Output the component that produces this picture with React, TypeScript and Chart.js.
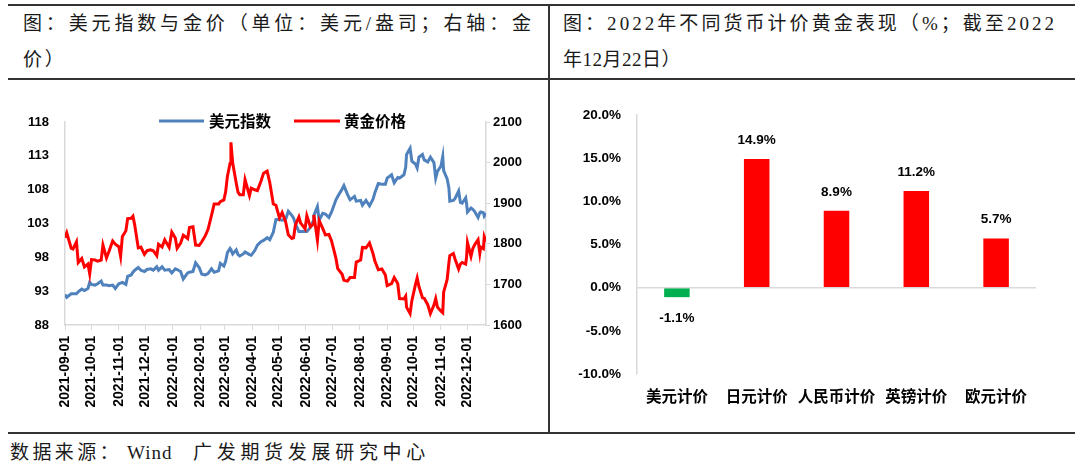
import React, { useEffect, useRef } from "react";
import { Chart, registerables } from "chart.js";

Chart.register(...registerables);

// ---------- data: left chart (USD index vs gold) ----------
const dates = [
  "2021-09-01","2021-09-03","2021-09-08","2021-09-10","2021-09-14","2021-09-16","2021-09-20","2021-09-23","2021-09-27","2021-09-29",
  "2021-10-01","2021-10-05","2021-10-08","2021-10-12","2021-10-14","2021-10-18","2021-10-21","2021-10-25","2021-10-28",
  "2021-11-01","2021-11-03","2021-11-05","2021-11-09","2021-11-11","2021-11-15","2021-11-17","2021-11-19","2021-11-23","2021-11-26","2021-11-30",
  "2021-12-03","2021-12-07","2021-12-10","2021-12-14","2021-12-16","2021-12-20","2021-12-23","2021-12-28","2021-12-31",
  "2022-01-04","2022-01-06","2022-01-10","2022-01-13","2022-01-18","2022-01-20","2022-01-24","2022-01-27","2022-01-31",
  "2022-02-03","2022-02-07","2022-02-10","2022-02-14","2022-02-17","2022-02-22","2022-02-24","2022-02-28",
  "2022-03-02","2022-03-04","2022-03-07","2022-03-08","2022-03-10","2022-03-14","2022-03-16","2022-03-18","2022-03-22","2022-03-24","2022-03-29","2022-03-31",
  "2022-04-04","2022-04-07","2022-04-11","2022-04-14","2022-04-18","2022-04-21","2022-04-25","2022-04-28",
  "2022-05-02","2022-05-05","2022-05-09","2022-05-12","2022-05-16","2022-05-18","2022-05-20","2022-05-24","2022-05-26","2022-05-31",
  "2022-06-02","2022-06-06","2022-06-09","2022-06-10","2022-06-14","2022-06-16","2022-06-20","2022-06-23","2022-06-27","2022-06-30",
  "2022-07-05","2022-07-07","2022-07-12","2022-07-14","2022-07-18","2022-07-21","2022-07-26","2022-07-28",
  "2022-08-02","2022-08-04","2022-08-08","2022-08-12","2022-08-16","2022-08-18","2022-08-22","2022-08-26","2022-08-30",
  "2022-09-01","2022-09-06","2022-09-09","2022-09-13","2022-09-15","2022-09-20","2022-09-22","2022-09-23","2022-09-27","2022-09-29",
  "2022-10-03","2022-10-05","2022-10-07","2022-10-11","2022-10-13","2022-10-17","2022-10-20","2022-10-24","2022-10-26","2022-10-28",
  "2022-11-01","2022-11-03","2022-11-04","2022-11-08","2022-11-10","2022-11-11","2022-11-15","2022-11-17","2022-11-21","2022-11-23","2022-11-25","2022-11-29","2022-11-30",
  "2022-12-01","2022-12-05","2022-12-07","2022-12-09","2022-12-13","2022-12-15","2022-12-16","2022-12-19","2022-12-20","2022-12-22",
];

const usdIndex = [
  92.5,92.1,92.6,92.6,92.6,92.9,93.3,93.1,93.4,94.3,
  94.0,93.9,94.1,94.5,93.9,93.9,93.8,93.9,93.4,
  94.1,94.2,94.3,94.0,95.2,95.4,95.8,96.1,96.5,96.1,95.9,
  96.2,96.3,96.1,96.6,96.1,96.6,96.1,96.2,95.7,
  96.3,96.2,95.9,94.8,95.7,95.8,95.9,97.2,96.5,
  95.5,95.4,95.6,96.3,95.8,96.0,97.1,96.7,
  97.4,98.7,99.3,99.1,98.5,99.1,98.4,98.2,98.5,98.8,98.4,98.3,
  99.0,99.8,100.3,100.5,100.9,100.6,101.7,103.6,
  103.6,103.5,103.6,104.8,104.2,103.8,103.0,101.8,101.8,101.8,
  101.8,102.4,103.3,104.2,105.5,103.5,104.5,104.4,103.9,104.7,
  106.5,107.0,108.1,108.6,107.3,106.5,107.0,106.3,
  106.4,105.7,106.4,105.6,106.6,107.5,108.9,108.8,108.8,
  109.7,110.2,109.0,109.8,109.7,110.2,111.3,113.2,114.1,112.2,
  111.8,111.2,112.8,113.2,112.4,112.1,112.8,112.0,109.7,110.7,
  111.5,112.9,110.8,109.6,108.2,106.3,106.4,106.7,107.8,106.1,106.0,106.8,105.9,
  104.7,105.3,105.1,104.8,103.9,104.6,104.7,104.6,104.1,104.5,
];

const goldPrice = [
  1815,1827,1789,1787,1805,1754,1764,1743,1750,1726,
  1761,1760,1757,1760,1797,1765,1782,1807,1799,
  1793,1769,1818,1832,1862,1863,1868,1846,1790,1792,1774,
  1783,1785,1783,1771,1799,1792,1810,1791,1829,
  1814,1789,1802,1821,1813,1840,1842,1797,1796,
  1805,1820,1835,1870,1898,1898,1904,1908,
  1928,1966,1998,2050,1999,1950,1927,1921,1921,1958,1919,1937,
  1933,1931,1954,1974,1979,1951,1898,1895,
  1864,1877,1854,1822,1813,1815,1846,1866,1851,1837,
  1869,1842,1848,1871,1809,1857,1838,1822,1823,1807,
  1764,1739,1725,1710,1708,1717,1717,1755,
  1760,1791,1790,1802,1776,1758,1736,1738,1723,
  1697,1702,1717,1702,1665,1664,1671,1644,1628,1660,
  1699,1716,1695,1667,1666,1650,1628,1649,1665,1644,
  1634,1630,1681,1712,1754,1771,1776,1762,1738,1750,1754,1750,1768,
  1803,1769,1788,1797,1810,1777,1792,1788,1817,1805,
];

const monthTicks = [
  "2021-09-01","2021-10-01","2021-11-01","2021-12-01","2022-01-01","2022-02-01","2022-03-01","2022-04-01",
  "2022-05-01","2022-06-01","2022-07-01","2022-08-01","2022-09-01","2022-10-01","2022-11-01","2022-12-01",
];
const xStart = "2021-09-01";
const xEnd = "2022-12-22";
const seriesNames = ["美元指数", "黄金价格"];

// ---------- data: right chart (gold in different currencies) ----------
const currencyLabels = ["美元计价", "日元计价", "人民币计价", "英镑计价", "欧元计价"];
const goldReturns = [-1.1, 14.9, 8.9, 11.2, 5.7];

const NUM_FONT = "'Liberation Sans', Arial, sans-serif";
const CJK_FONT = "'Noto Sans CJK SC', 'Noto Sans', sans-serif";
const TITLE_FONT = "'Liberation Serif', 'Noto Sans CJK SC', serif";
const BLUE = "#4F81BD";
const RED = "#FF0000";
const GREEN = "#00B050";
const AXIS = "#D9D9D9";

const legendPlugin = {
  id: "customLegend",
  afterDraw(chart: any) {
    const ctx = chart.ctx;
    const y = 36;
    const items = [
      { x1: 159, x2: 204, tx: 209, color: BLUE, text: seriesNames[0] },
      { x1: 294, x2: 340, tx: 344, color: RED, text: seriesNames[1] },
    ];
    ctx.save();
    items.forEach((it) => {
      ctx.strokeStyle = it.color;
      ctx.lineWidth = 3;
      ctx.beginPath();
      ctx.moveTo(it.x1, y);
      ctx.lineTo(it.x2, y);
      ctx.stroke();
      ctx.fillStyle = "#000";
      ctx.font = `bold 15.5px ${CJK_FONT}`;
      ctx.textAlign = "left";
      ctx.textBaseline = "middle";
      ctx.fillText(it.text, it.tx, y);
    });
    ctx.restore();
  },
};

const barLabelPlugin = {
  id: "barLabels",
  afterDatasetsDraw(chart: any) {
    const ctx = chart.ctx;
    const meta = chart.getDatasetMeta(0);
    ctx.save();
    ctx.fillStyle = "#000";
    ctx.font = `bold 13.5px ${NUM_FONT}`;
    ctx.textAlign = "center";
    ctx.textBaseline = "middle";
    meta.data.forEach((bar: any, i: number) => {
      const v = goldReturns[i];
      const y = v >= 0 ? bar.y - 19 : bar.y + 21;
      ctx.fillText(v.toFixed(1) + "%", bar.x, y);
    });
    ctx.restore();
  },
};

function LeftChart() {
  const ref = useRef<HTMLCanvasElement>(null);
  useEffect(() => {
    if (!ref.current) return;
    const xs = dates.map((d) => Date.parse(d));
    const chart = new Chart(ref.current, {
      type: "line",
      data: {
        datasets: [
          {
            label: seriesNames[0],
            data: xs.map((x, i) => ({ x, y: usdIndex[i] })),
            borderColor: BLUE,
            backgroundColor: BLUE,
            borderWidth: 3,
            pointRadius: 0,
            tension: 0,
            yAxisID: "y",
            order: 1,
          },
          {
            label: seriesNames[1],
            data: xs.map((x, i) => ({ x, y: goldPrice[i] })),
            borderColor: RED,
            backgroundColor: RED,
            borderWidth: 3,
            pointRadius: 0,
            tension: 0,
            yAxisID: "y1",
            order: 0,
          },
        ],
      },
      options: {
        animation: false,
        responsive: false,
        layout: { padding: { top: 37, left: 0, right: 0, bottom: 0 } },
        plugins: { legend: { display: false }, tooltip: { enabled: false } },
        scales: {
          x: {
            type: "linear",
            min: Date.parse(xStart),
            max: Date.parse(xEnd),
            afterBuildTicks: (s: any) => {
              s.ticks = monthTicks.map((d) => ({ value: Date.parse(d) }));
            },
            afterFit: (s: any) => {
              s.height = 105;
            },
            ticks: {
              autoSkip: false,
              minRotation: 90,
              maxRotation: 90,
              padding: 6,
              color: "#000",
              font: { family: NUM_FONT, size: 14, weight: "bold" },
              callback: (v: any) => new Date(v).toISOString().slice(0, 10),
            },
            grid: { display: true, drawOnChartArea: false, drawTicks: true, tickLength: 5, color: AXIS, lineWidth: 1 },
            border: { display: true, color: AXIS, width: 1.5 },
          },
          y: {
            position: "left",
            min: 88,
            max: 118,
            afterFit: (s: any) => {
              s.width = 65;
            },
            ticks: {
              stepSize: 5,
              padding: 16,
              color: "#000",
              font: { family: NUM_FONT, size: 13, weight: "bold" },
              callback: (v: any) => String(v),
            },
            grid: { display: false, drawTicks: false },
            border: { display: true, color: AXIS, width: 1.5 },
          },
          y1: {
            position: "right",
            min: 1600,
            max: 2100,
            afterFit: (s: any) => {
              s.width = 62;
            },
            ticks: {
              stepSize: 100,
              padding: 3,
              color: "#000",
              font: { family: NUM_FONT, size: 13, weight: "bold" },
              callback: (v: any) => String(v),
            },
            grid: { display: true, drawOnChartArea: false, drawTicks: true, tickLength: 4, color: AXIS },
            border: { display: true, color: AXIS, width: 1.5 },
          },
        },
      } as any,
      plugins: [legendPlugin],
    });
    return () => chart.destroy();
  }, []);
  return <canvas ref={ref} width={548} height={345} style={{ display: "block" }} />;
}

function RightChart() {
  const ref = useRef<HTMLCanvasElement>(null);
  useEffect(() => {
    if (!ref.current) return;
    const chart = new Chart(ref.current, {
      type: "bar",
      data: {
        labels: currencyLabels,
        datasets: [
          {
            data: goldReturns,
            backgroundColor: goldReturns.map((v) => (v < 0 ? GREEN : RED)),
            borderWidth: 0,
            categoryPercentage: 1,
            barPercentage: 0.32,
          },
        ],
      },
      options: {
        animation: false,
        responsive: false,
        layout: { padding: { top: 30, right: 42, left: 0, bottom: 0 } },
        plugins: { legend: { display: false }, tooltip: { enabled: false } },
        scales: {
          x: {
            afterFit: (s: any) => {
              s.height = 56;
            },
            ticks: {
              padding: 13,
              color: "#000",
              font: { family: CJK_FONT, size: 15.5, weight: "bold" },
              maxRotation: 0,
              autoSkip: false,
            },
            grid: { display: false, drawTicks: false },
            border: { display: false },
          },
          y: {
            min: -10,
            max: 20,
            afterFit: (s: any) => {
              s.width = 87;
            },
            ticks: {
              stepSize: 5,
              padding: 16,
              color: "#000",
              font: { family: NUM_FONT, size: 13.5, weight: "bold" },
              callback: (v: any) => Number(v).toFixed(1) + "%",
            },
            grid: {
              drawTicks: false,
              lineWidth: 1.5,
              color: (c: any) => (c.tick && c.tick.value === 0 ? AXIS : "rgba(0,0,0,0)"),
            },
            border: { display: true, color: AXIS, width: 1.5 },
          },
        },
      } as any,
      plugins: [barLabelPlugin],
    });
    return () => chart.destroy();
  }, []);
  return <canvas ref={ref} width={528} height={345} style={{ display: "block" }} />;
}

const lineStyle = (left: number, top: number, width: number, height: number): React.CSSProperties => ({
  position: "absolute",
  left,
  top,
  width,
  height,
  background: "#333",
});

const titleText: React.CSSProperties = {
  position: "absolute",
  fontFamily: TITLE_FONT,
  fontSize: 19,
  lineHeight: "19px",
  color: "#1a1a1a",
  whiteSpace: "nowrap",
};

const justified: React.CSSProperties = {
  textAlign: "justify",
  textAlignLast: "justify" as any,
  textJustify: "inter-character" as any,
  whiteSpace: "normal",
};

export default function App() {
  return (
    <div
      lang="zh-CN"
      style={{
        position: "fixed",
        left: 0,
        top: 0,
        width: 1080,
        height: 469,
        background: "#fff",
        overflow: "hidden",
      }}
    >
      <div style={{ position: "absolute", left: 0, top: 85 }}>
        <LeftChart />
      </div>
      <div style={{ position: "absolute", left: 550, top: 85 }}>
        <RightChart />
      </div>

      <div style={{ ...titleText, ...justified, left: 23, top: 14, width: 508 }}>
        图：美元指数与金价（单位：美元/盎司；右轴：金
      </div>
      <div style={{ ...titleText, left: 23, top: 50, letterSpacing: "2.7px" }}>价）</div>
      <div style={{ ...titleText, left: 563, top: 14, letterSpacing: "3.05px" }}>
        图：2022年不同货币计价黄金表现（%；截至2022
      </div>
      <div style={{ ...titleText, left: 563, top: 50, letterSpacing: "0.5px" }}>年12月22日）</div>

      <div style={{ ...titleText, left: 10, top: 443, letterSpacing: "3.4px" }}>数据来源：</div>
      <div style={{ ...titleText, left: 127, top: 443, letterSpacing: "1px" }}>Wind</div>
      <div style={{ ...titleText, left: 193, top: 443, letterSpacing: "4.7px" }}>广发期货发展研究中心</div>

      <div style={lineStyle(8, 4, 1067, 2)} />
      <div style={lineStyle(8, 78, 1067, 1.5)} />
      <div style={lineStyle(8, 432, 1067, 1.5)} />
      <div style={lineStyle(548, 4, 1.5, 429)} />
    </div>
  );
}
